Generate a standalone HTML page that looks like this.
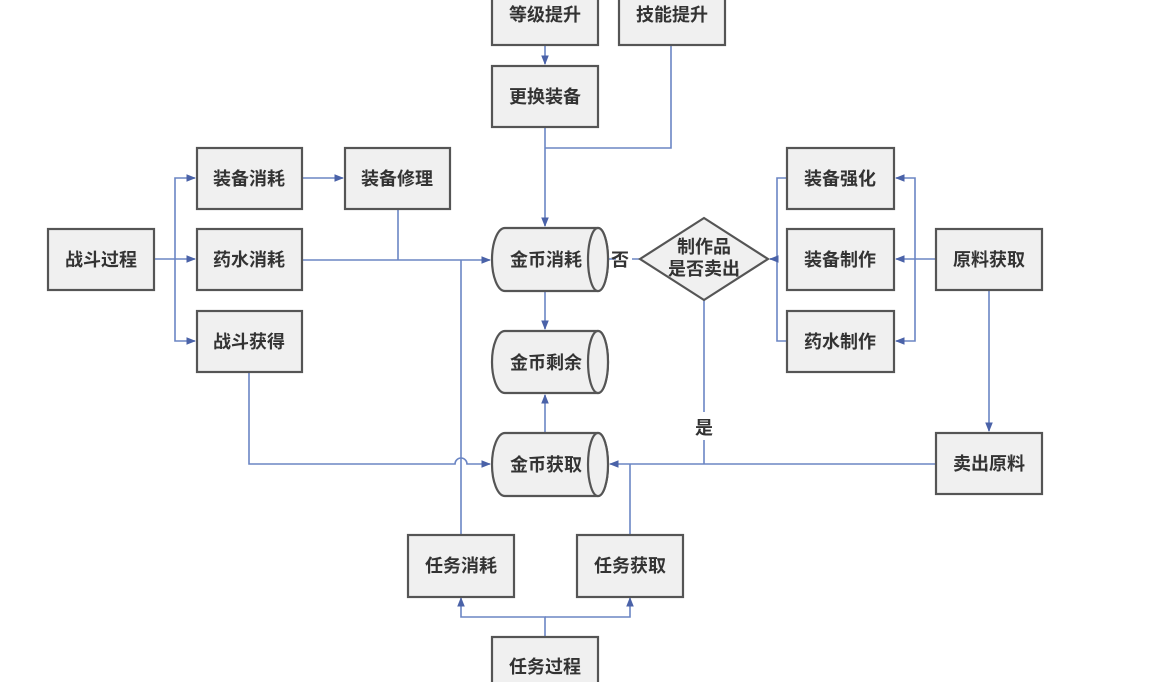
<!DOCTYPE html>
<html><head><meta charset="utf-8"><style>
html,body{margin:0;padding:0;background:#fff;width:1150px;height:682px;overflow:hidden}
text{font-family:"Liberation Sans","Noto Sans CJK SC",sans-serif;font-size:18px;fill:#333;font-weight:bold}
</style></head><body>
<svg width="1150" height="682" viewBox="0 0 1150 682" xmlns="http://www.w3.org/2000/svg">
<defs>
<marker id="a" viewBox="0 0 10 10" refX="9" refY="5" markerWidth="6" markerHeight="6" orient="auto"><path d="M0,1 L10,5 L0,9 z" fill="#4a62a8"/></marker>
</defs>
<g fill="none" stroke="#6b85c4" stroke-width="1.6">
<path d="M545,45 V64" marker-end="url(#a)"/>
<path d="M545,127 V226" marker-end="url(#a)"/>
<path d="M671,45 V148 H545"/>
<path d="M154,259 H195" marker-end="url(#a)"/>
<path d="M175,259 V178 H195" marker-end="url(#a)"/>
<path d="M175,259 V341 H195" marker-end="url(#a)"/>
<path d="M302,178 H343" marker-end="url(#a)"/>
<path d="M398,209 V260"/>
<path d="M302,260 H490" marker-end="url(#a)"/>
<path d="M461,534 V260"/>
<path d="M249,372 V464 H455 a6,6 0 0 1 12,0 H490" marker-end="url(#a)"/>
<path d="M545,291 V329" marker-end="url(#a)"/>
<path d="M545,433 V395" marker-end="url(#a)"/>
<path d="M608,259 H616 M632,259 H640"/>
<path d="M787,178 H777 V341 H787 M777,259 H770" />
<path d="M777,259 H770" marker-end="url(#a)"/>
<path d="M936,259 H896" marker-end="url(#a)"/>
<path d="M915,259 V178 H896" marker-end="url(#a)"/>
<path d="M915,259 V341 H896" marker-end="url(#a)"/>
<path d="M989,290 V431" marker-end="url(#a)"/>
<path d="M704,300 V412 M704,440 V464"/>
<path d="M936,464 H610" marker-end="url(#a)"/>
<path d="M630,534 V464"/>
<path d="M545,637 V617 H461 V598" marker-end="url(#a)"/>
<path d="M545,617 H630 V598" marker-end="url(#a)"/>
</g>
<g fill="#f0f0f0" stroke="#555" stroke-width="2.2">
<rect x="492" y="-16" width="106" height="61"/>
<rect x="619" y="-16" width="106" height="61"/>
<rect x="492" y="66" width="106" height="61"/>
<rect x="197" y="148" width="105" height="61"/>
<rect x="345" y="148" width="105" height="61"/>
<rect x="48" y="229" width="106" height="61"/>
<rect x="197" y="229" width="105" height="61"/>
<rect x="197" y="311" width="105" height="61"/>
<rect x="787" y="148" width="107" height="61"/>
<rect x="787" y="229" width="107" height="61"/>
<rect x="787" y="311" width="107" height="61"/>
<rect x="936" y="229" width="106" height="61"/>
<rect x="936" y="433" width="106" height="61"/>
<rect x="408" y="535" width="106" height="62"/>
<rect x="577" y="535" width="106" height="62"/>
<rect x="492" y="637" width="106" height="62"/>
<path d="M640,259 L704,218 L768,259 L704,300 Z"/>
</g>
<g fill="#f0f0f0" stroke="#555" stroke-width="2.2">
<path d="M505,228 H598 A10,31.5 0 0 1 598,291 H505 A13,31.5 0 0 1 505,228 Z"/><ellipse cx="598" cy="259.5" rx="10" ry="31.5"/>
<path d="M505,331 H598 A10,31 0 0 1 598,393 H505 A13,31 0 0 1 505,331 Z"/><ellipse cx="598" cy="362" rx="10" ry="31"/>
<path d="M505,433 H598 A10,31.5 0 0 1 598,496 H505 A13,31.5 0 0 1 505,433 Z"/><ellipse cx="598" cy="464.5" rx="10" ry="31.5"/>
</g>
<g text-anchor="middle">
<text x="545" y="21">等级提升</text>
<text x="672" y="21">技能提升</text>
<text x="545" y="103">更换装备</text>
<text x="249" y="185">装备消耗</text>
<text x="397" y="185">装备修理</text>
<text x="101" y="266">战斗过程</text>
<text x="249" y="266">药水消耗</text>
<text x="249" y="348">战斗获得</text>
<text x="546" y="266">金币消耗</text>
<text x="546" y="369">金币剩余</text>
<text x="546" y="471">金币获取</text>
<text x="704" y="253">制作品</text>
<text x="704" y="275">是否卖出</text>
<text x="620" y="266">否</text>
<text x="704" y="434">是</text>
<text x="840" y="185">装备强化</text>
<text x="840" y="266">装备制作</text>
<text x="840" y="348">药水制作</text>
<text x="989" y="266">原料获取</text>
<text x="989" y="470">卖出原料</text>
<text x="461" y="572">任务消耗</text>
<text x="630" y="572">任务获取</text>
<text x="545" y="673">任务过程</text>
</g>
</svg>
</body></html>
